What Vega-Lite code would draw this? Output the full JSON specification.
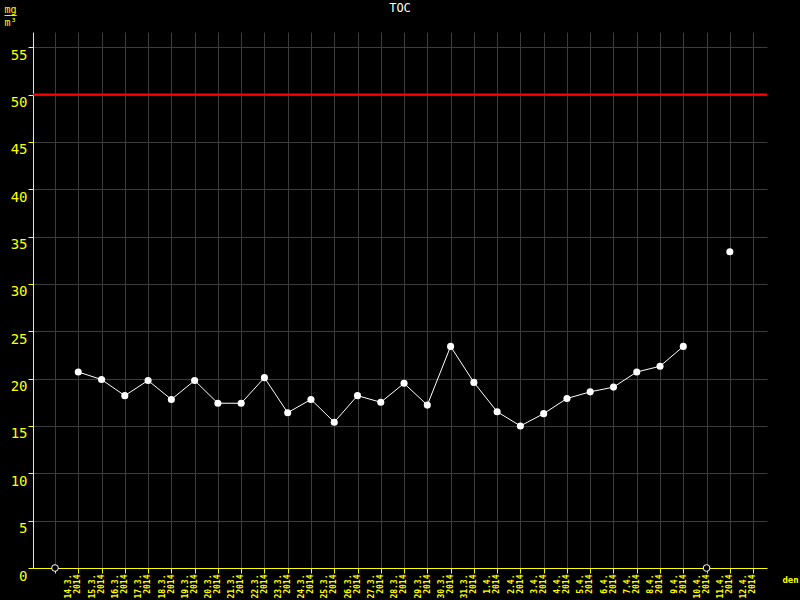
{
  "$schema": "https://vega.github.io/schema/vega-lite/v6.json",
  "autosize": {"type": "none"},
  "padding": {"left": 33, "top": 32, "right": 33, "bottom": 32},
  "width": 734,
  "height": 536,
  "background": "black",
  "title": {"text": "TOC", "color": "white", "font": "DejaVu Sans Mono", "fontSize": 12, "fontWeight": "normal", "anchor": "middle", "frame": "group", "baseline": "alphabetic", "offset": -20},
  "config": {
    "view": {"stroke": null},
    "axis": {"zindex": 0}
  },
  "data": {
    "values": [
      {"date": "14.3. 2014", "value": null},
      {"date": "15.3. 2014", "value": 20.7},
      {"date": "16.3. 2014", "value": 19.9},
      {"date": "17.3. 2014", "value": 18.2},
      {"date": "18.3. 2014", "value": 19.8},
      {"date": "19.3. 2014", "value": 17.8},
      {"date": "20.3. 2014", "value": 19.8},
      {"date": "21.3. 2014", "value": 17.4},
      {"date": "22.3. 2014", "value": 17.4},
      {"date": "23.3. 2014", "value": 20.1},
      {"date": "24.3. 2014", "value": 16.4},
      {"date": "25.3. 2014", "value": 17.8},
      {"date": "26.3. 2014", "value": 15.4},
      {"date": "27.3. 2014", "value": 18.2},
      {"date": "28.3. 2014", "value": 17.5},
      {"date": "29.3. 2014", "value": 19.5},
      {"date": "30.3. 2014", "value": 17.2},
      {"date": "31.3. 2014", "value": 23.4},
      {"date": "1.4. 2014", "value": 19.6},
      {"date": "2.4. 2014", "value": 16.5},
      {"date": "3.4. 2014", "value": 15.0},
      {"date": "4.4. 2014", "value": 16.3},
      {"date": "5.4. 2014", "value": 17.9},
      {"date": "6.4. 2014", "value": 18.6},
      {"date": "7.4. 2014", "value": 19.1},
      {"date": "8.4. 2014", "value": 20.7},
      {"date": "9.4. 2014", "value": 21.3},
      {"date": "10.4. 2014", "value": 23.4},
      {"date": "11.4. 2014", "value": null},
      {"date": "12.4. 2014", "value": 33.4}
    ]
  },
  "encoding": {
    "x": {
      "field": "date",
      "type": "ordinal",
      "sort": null,
      "scale": {
        "type": "point",
        "padding": 0.771,
        "align": 0.613,
        "domain": ["14.3. 2014","15.3. 2014","16.3. 2014","17.3. 2014","18.3. 2014","19.3. 2014","20.3. 2014","21.3. 2014","22.3. 2014","23.3. 2014","24.3. 2014","25.3. 2014","26.3. 2014","27.3. 2014","28.3. 2014","29.3. 2014","30.3. 2014","31.3. 2014","1.4. 2014","2.4. 2014","3.4. 2014","4.4. 2014","5.4. 2014","6.4. 2014","7.4. 2014","8.4. 2014","9.4. 2014","10.4. 2014","11.4. 2014","12.4. 2014","13.4. 2014"]
      },
      "axis": {
        "title": "den",
        "titleColor": "#ffff00",
        "titleFont": "DejaVu Sans Mono",
        "titleFontSize": 9,
        "titleFontWeight": "bold",
        "titleX": 757,
        "titleY": 7,
        "titleAlign": "center",
        "titleBaseline": "top",
        "titleAngle": 0,
        "domainColor": "#ffff00",
        "domainWidth": 1,
        "tickColor": "#ffff00",
        "tickSize": 5,
        "grid": true,
        "gridColor": "#3c3c3c",
        "gridWidth": 1,
        "labelColor": "#ffff00",
        "labelFont": "DejaVu Sans Mono",
        "labelFontSize": 8,
        "labelFontWeight": "bold",
        "labelAngle": -90,
        "labelAlign": "right",
        "labelBaseline": "middle",
        "labelOffset": 14,
        "labelPadding": 1,
        "labelLineHeight": 9,
        "labelOverlap": false,
        "labelExpr": "datum.value == '13.4. 2014' ? '' : split(datum.value, ' ')"
      }
    }
  },
  "layer": [
    {
      "data": {"values": [{"limit": 50}]},
      "mark": {"type": "rule", "color": "#ff0000", "strokeWidth": 2},
      "encoding": {
        "x": null,
        "y": {"field": "limit", "type": "quantitative"}
      }
    },
    {
      "mark": {"type": "line", "color": "white", "strokeWidth": 1, "invalid": "break-paths-show-domains"},
      "encoding": {
        "y": {
          "field": "value",
          "type": "quantitative",
          "scale": {"domain": [0, 56.6], "nice": false, "zero": true},
          "axis": {
            "title": ["mg", "──", "m³"],
            "titleColor": "#ffff00",
            "titleFont": "DejaVu Sans Mono",
            "titleFontSize": 10,
            "titleFontWeight": "normal",
            "titleLineHeight": 6.5,
            "titleAngle": 0,
            "titleAlign": "center",
            "titleBaseline": "top",
            "titleX": -23,
            "titleY": -28,
            "values": [0, 5, 10, 15, 20, 25, 30, 35, 40, 45, 50, 55],
            "domainColor": "#ffff00",
            "tickColor": "#ffff00",
            "tickSize": 5,
            "grid": true,
            "gridColor": "#3c3c3c",
            "labelColor": "#ffff00",
            "labelFont": "DejaVu Sans Mono",
            "labelFontSize": 14,
            "labelFontWeight": "normal",
            "labelBaseline": "top",
            "labelAlign": "right",
            "labelPadding": 1,
            "labelOffset": 1
          }
        }
      }
    },
    {
      "mark": {"type": "point", "filled": true, "color": "white", "size": 50, "opacity": 1},
      "encoding": {
        "y": {"field": "value", "type": "quantitative"}
      }
    },
    {
      "transform": [{"filter": "datum.value == null"}],
      "mark": {"type": "point", "filled": false, "fill": "black", "stroke": "white", "strokeWidth": 1, "size": 45, "opacity": 1},
      "encoding": {
        "y": {"datum": 0, "type": "quantitative"}
      }
    }
  ]
}
